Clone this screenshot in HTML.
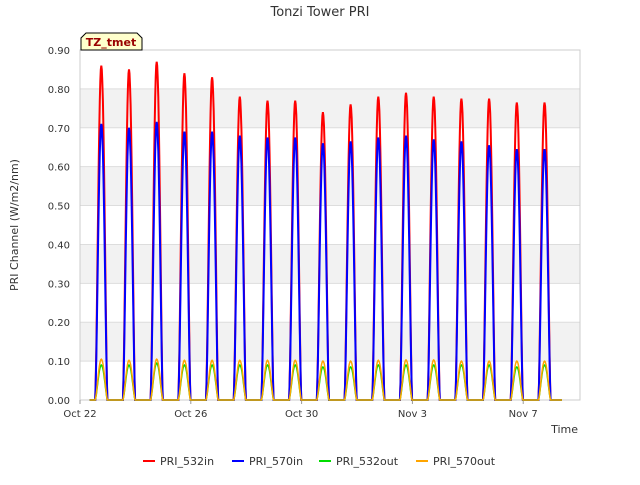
<!DOCTYPE html>
<html><head><meta charset="utf-8"><style>
body{margin:0;background:#fff;font-family:"Liberation Sans","DejaVu Sans",sans-serif}
</style></head><body>
<svg width="640" height="480" xmlns="http://www.w3.org/2000/svg" style="font-family:'DejaVu Sans','Liberation Sans',sans-serif">
<text x="320" y="16" text-anchor="middle" font-size="13" fill="#333">Tonzi Tower PRI</text>
<g id="plot"></g>
<text transform="translate(18,225) rotate(-90)" text-anchor="middle" font-size="11" fill="#333">PRI Channel (W/m2/nm)</text>
<text x="578" y="433" text-anchor="end" font-size="11" fill="#333">Time</text>
<g>
<path d="M81,50 L81,38 L86,33 L137,33 L142,38 L142,50 Z" fill="#ffffcc" stroke="#000" stroke-width="1"/>
<text x="111" y="46" text-anchor="middle" font-size="11" font-weight="bold" fill="#990000">TZ_tmet</text>
</g>
<g id="legend"></g>
</svg>
<script>
const days=[0,1,2,3,4,5,6,7,8,9,10,11,12,13,14,15,16];
const in532=[0.86,0.85,0.87,0.84,0.83,0.78,0.77,0.77,0.74,0.76,0.78,0.79,0.78,0.775,0.775,0.765,0.765];
const in570=[0.71,0.70,0.715,0.69,0.69,0.68,0.675,0.675,0.66,0.665,0.675,0.68,0.67,0.665,0.655,0.645,0.645];
const out532=[0.09,0.09,0.095,0.09,0.09,0.09,0.09,0.09,0.085,0.085,0.09,0.09,0.09,0.09,0.09,0.085,0.09];
const out570=[0.105,0.102,0.105,0.102,0.102,0.102,0.102,0.102,0.1,0.1,0.102,0.103,0.103,0.1,0.1,0.1,0.1];
const yTicks=[0,0.1,0.2,0.3,0.4,0.5,0.6,0.7,0.8,0.9];
const xTicks=[0,4,8,12,16];
const xLabels=["Oct 22","Oct 26","Oct 30","Nov 3","Nov 7"];
const L=80,R=580,T=50,B=400,x0=0,x1=18.05;
const X=d=>L+(d-x0)/(x1-x0)*(R-L), Y=v=>B-v/0.9*(B-T);
const NS="http://www.w3.org/2000/svg";
const g=document.getElementById('plot');
function mk(t,a,p){const e=document.createElementNS(NS,t);for(const k in a)e.setAttribute(k,a[k]);(p||g).appendChild(e);return e;}
for(let i=0;i<yTicks.length-1;i++){if(i%2==1){const r=mk('rect',{x:L,y:Y(yTicks[i+1]),width:R-L,height:Y(yTicks[i])-Y(yTicks[i+1]),fill:'#f2f2f2'});}}
yTicks.forEach(v=>{const l=mk('line',{x1:L,x2:R,y1:Y(v),y2:Y(v),stroke:'#ddd'});
const t=mk('text',{x:L-10,y:Y(v)+4,'text-anchor':'end','font-size':10,fill:'#333'});t.textContent=v.toFixed(2);});
mk('rect',{x:L,y:T,width:R-L,height:B-T,fill:'none',stroke:'#ccc'});
xTicks.forEach((d,i)=>{const t=mk('text',{x:X(d),y:B+17,'text-anchor':'middle','font-size':10,fill:'#333'});t.textContent=xLabels[i];
mk('line',{x1:X(d),x2:X(d),y1:B,y2:B+4,stroke:'#999'});});
function series(vals,color,name,w){let p=[];p.push([0.35,0]);
days.forEach((d,i)=>{const c=d+0.77,h=0.22;p.push([c-h-0.01,0]);for(let k=0;k<=24;k++){const f=k/24,dx=c-h+2*h*f;p.push([dx,vals[i]*Math.pow(Math.sin(Math.PI*f),1.4)]);}p.push([c+h+0.01,0]);});
p.push([17.4,0]);
const path=mk('path',{d:'M'+p.map(q=>X(q[0]).toFixed(1)+','+Y(q[1]).toFixed(1)).join('L'),fill:'none',stroke:color,'stroke-width':w});
}
series(in532,'#ff0000','series-pri-532in',2);
series(in570,'#0000ff','series-pri-570in',2);
series(out532,'#00dd00','series-pri-532out',1.5);
series(out570,'#ffa500','series-pri-570out',1.5);
const lg=document.getElementById('legend');
[["PRI_532in","#ff0000",143],["PRI_570in","#0000ff",232],["PRI_532out","#00dd00",319],["PRI_570out","#ffa500",416]].forEach(e=>{
const gg=mk('g',{},lg);
mk('line',{x1:e[2],x2:e[2]+12,y1:461,y2:461,stroke:e[1],'stroke-width':2},gg);
const t=mk('text',{x:e[2]+17,y:465,'font-size':11,fill:'#333'},gg);t.textContent=e[0];});
</script>
</body></html>
